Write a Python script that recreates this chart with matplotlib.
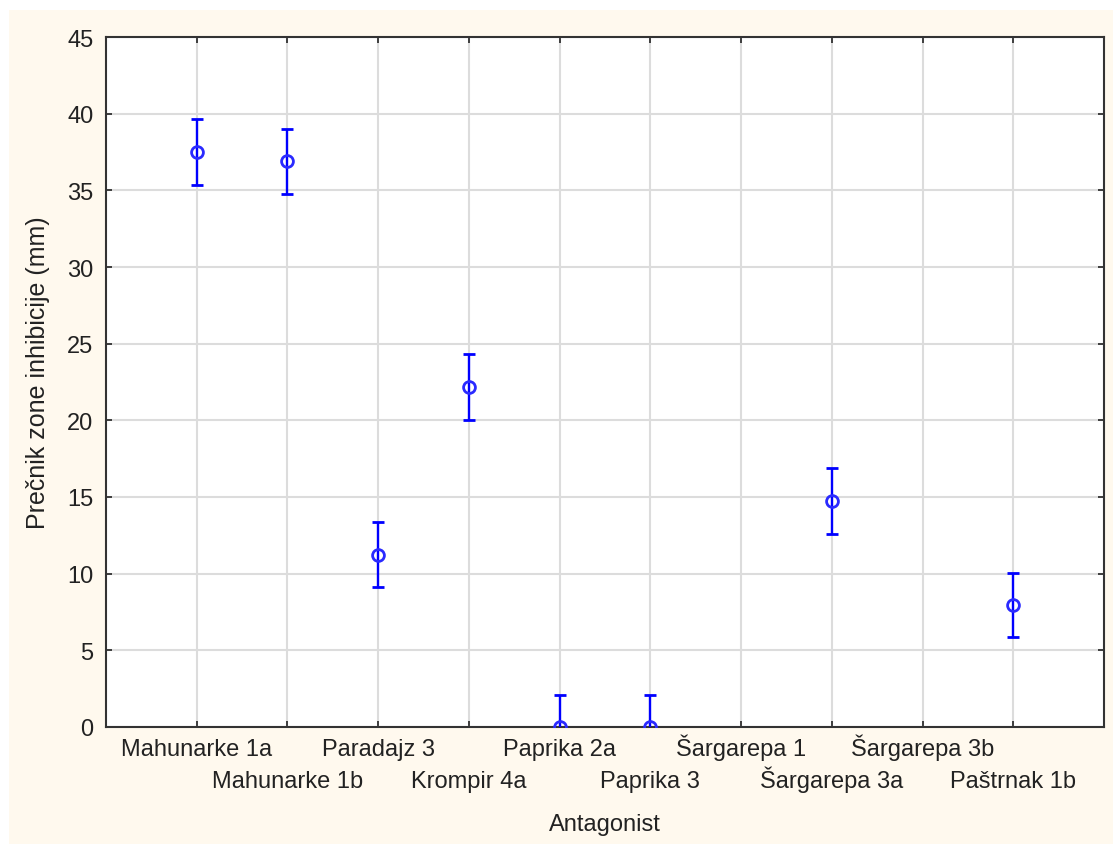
import numpy as np
import matplotlib.pyplot as plt
from matplotlib.patches import Rectangle

plt.rcParams['font.family'] = ['Liberation Sans', 'DejaVu Sans']

# srednji prečnik zone inhibicije po antagonistu (NaN = bez podataka)
antagonists = ['Mahunarke 1a', 'Mahunarke 1b', 'Paradajz 3', 'Krompir 4a',
               'Paprika 2a', 'Paprika 3', 'Šargarepa 1', 'Šargarepa 3a',
               'Šargarepa 3b', 'Paštrnak 1b']
means = [37.5, 36.9, 11.25, 22.2, 0.0, 0.0, np.nan, 14.75, np.nan, 7.95]
errors = [2.13, 2.13, 2.15, 2.15, 2.1, 2.1, np.nan, 2.15, np.nan, 2.1]
yticks = [0, 5, 10, 15, 20, 25, 30, 35, 40, 45]

fs = 17
cream = '#FFF9EE'
txt = '#222222'

fig = plt.figure(figsize=(11.13, 8.45), dpi=100, facecolor='white')
fig.patches.append(Rectangle((9 / 1113, 0), 1 - 9 / 1113, 1 - 11 / 845,
                             transform=fig.transFigure, facecolor=cream,
                             edgecolor='none', zorder=-1))
ax = fig.add_axes([106 / 1113, 1 - 728 / 845, (1104 - 106) / 1113, (728 - 38) / 845])
ax.set_facecolor('white')

x = np.arange(len(antagonists))
ax.errorbar(x, means, yerr=errors, fmt='o', color='blue', ecolor='blue',
            elinewidth=1.7, capsize=4.3, capthick=1.7, markersize=8.5,
            markerfacecolor='none', markeredgewidth=2, markeredgecolor='#2a2aff',
            zorder=3)

ax.set_xlim(-1, len(antagonists))
ax.set_ylim(0, 45)

# naizmjenični redovi oznaka: parni indeksi gore, neparni dolje
ax.set_xticks(x[::2])
ax.set_xticklabels(antagonists[::2])
ax.set_xticks(x[1::2], minor=True)
ax.set_xticklabels(antagonists[1::2], minor=True)
ax.set_yticks(yticks)

ax.tick_params(axis='both', which='both', direction='in', length=4, width=1.2,
               color=txt, labelsize=fs, labelcolor=txt,
               top=True, right=True)
ax.tick_params(axis='x', which='major', pad=20.5)
ax.tick_params(axis='x', which='minor', pad=43.5)
ax.tick_params(axis='y', pad=9)
# poravnanje po osnovnoj liniji da Š ne spušta tekst
for lab in ax.get_xticklabels(which='both'):
    lab.set_verticalalignment('baseline')

ax.grid(True, which='both', color='#dcdcdc', linewidth=1.5, zorder=0)
ax.set_axisbelow(True)
for s in ax.spines.values():
    s.set_color('#333333')
    s.set_linewidth(1.5)

ax.set_xlabel('Antagonist', fontsize=fs, color=txt, labelpad=14.5)
ax.set_ylabel('Prečnik zone inhibicije (mm)', fontsize=18, color=txt)
ax.yaxis.set_label_coords(-0.056, 0.515)

fig.savefig('out.png', dpi=100, facecolor=fig.get_facecolor())
